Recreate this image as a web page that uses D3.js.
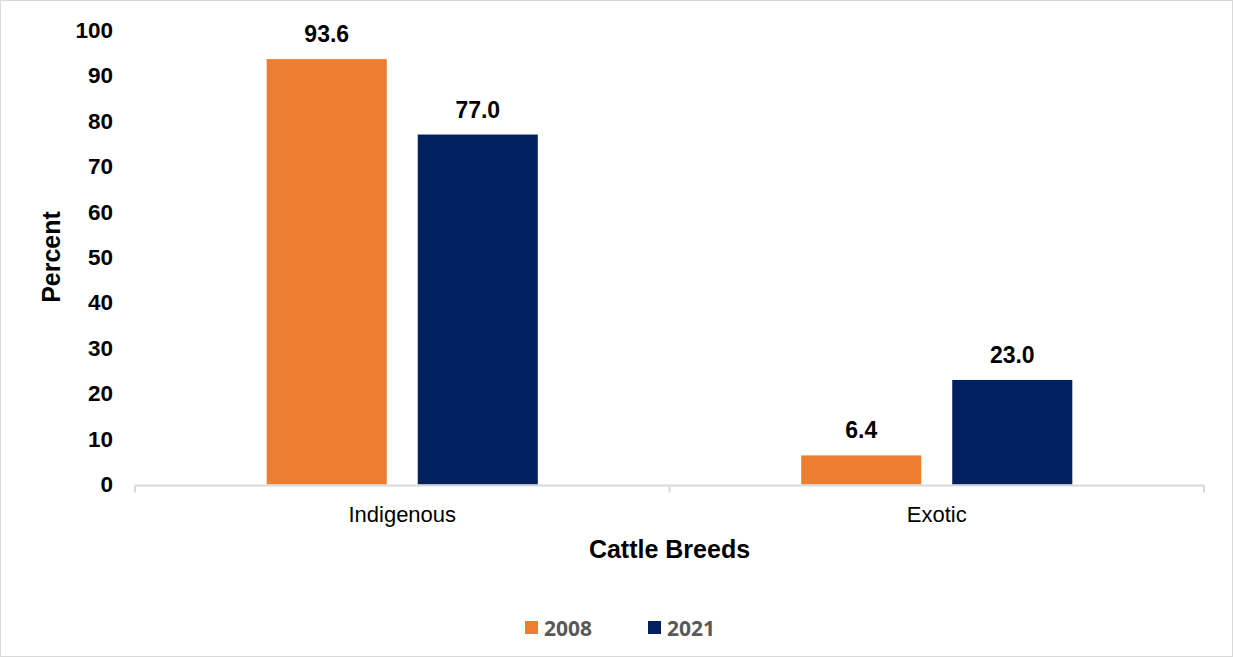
<!DOCTYPE html>
<html><head><meta charset="utf-8">
<script src="https://cdn.jsdelivr.net/npm/d3@7"></script>
<style>body{margin:0;background:#fff;}svg{display:block;}</style>
</head><body>
<svg id="c" width="1233" height="657"></svg>
<script>
const categories = ["Indigenous", "Exotic"];
const seriesNames = ["2008", "2021"];
const values2008 = [93.6, 6.4];
const values2021 = [77.0, 23.0];
const yTicks = [0, 10, 20, 30, 40, 50, 60, 70, 80, 90, 100];
const colors = ["#ED7D31", "#002060"];

(function () {
const svg = d3.select("#c");
svg.append("rect").attr("x", 0.5).attr("y", 0.5).attr("width", 1232).attr("height", 656)
  .attr("fill", "#fff").attr("stroke", "#d9d9d9");

const mLeft = 135, mRight = 1204, mTop = 30, mBottom = 484.5;
const x = d3.scaleBand().domain(categories).range([mLeft, mRight]).paddingInner(0).paddingOuter(0);
const y = d3.scaleLinear().domain([0, 100]).range([mBottom, mTop]);
const inner = d3.scaleBand().domain(seriesNames).range([0, x.bandwidth()]).paddingInner(0.205).paddingOuter(0.872);

const font = "'Liberation Sans', Arial, sans-serif";

const yAxis = d3.axisLeft(y).tickValues(yTicks).tickSize(0).tickPadding(0);
const gy = svg.append("g").attr("transform", `translate(113,0)`).call(yAxis);
gy.select(".domain").remove();
gy.selectAll("text").attr("font-family", font).attr("font-size", 22.5).attr("font-weight", "bold").attr("fill", "#000");

const data = [];
categories.forEach((c, i) => {
  data.push({c, s: "2008", v: values2008[i], col: colors[0]});
  data.push({c, s: "2021", v: values2021[i], col: colors[1]});
});
svg.append("g").selectAll("rect").data(data).join("rect")
  .attr("x", d => x(d.c) + inner(d.s))
  .attr("y", d => y(d.v))
  .attr("width", inner.bandwidth())
  .attr("height", d => y(0) - y(d.v))
  .attr("fill", d => d.col);

svg.append("g").selectAll("text").data(data).join("text")
  .attr("x", d => x(d.c) + inner(d.s) + inner.bandwidth() / 2)
  .attr("y", d => y(d.v) - 17)
  .attr("text-anchor", "middle")
  .attr("font-family", font).attr("font-size", 23).attr("font-weight", "bold").attr("fill", "#000")
  .text(d => d.v.toFixed(1));

const xAxis = d3.axisBottom(x).tickSize(0).tickPadding(0);
const gx = svg.append("g").attr("transform", `translate(0,${mBottom + 1})`).call(xAxis);
gx.select(".domain").attr("stroke", "#d9d9d9").attr("stroke-width", 2).attr("d", `M${mLeft},0H${mRight}`);
gx.selectAll("text").attr("font-family", font).attr("font-size", 22).attr("fill", "#000")
  .attr("dy", null).attr("y", 36.5);
const bounds = [mLeft, mLeft + x.bandwidth(), mRight];
svg.append("g").selectAll("line").data(bounds).join("line")
  .attr("x1", d => d).attr("x2", d => d).attr("y1", mBottom + 1).attr("y2", mBottom + 8)
  .attr("stroke", "#d9d9d9").attr("stroke-width", 2);

svg.append("text").attr("x", (mLeft + mRight) / 2).attr("y", 558).attr("text-anchor", "middle")
  .attr("font-family", font).attr("font-size", 25).attr("font-weight", "bold").text("Cattle Breeds");
svg.append("text").attr("transform", `translate(60,257) rotate(-90)`).attr("text-anchor", "middle")
  .attr("font-family", font).attr("font-size", 25).attr("font-weight", "bold").text("Percent");

const legX = [525, 648];
const lg = svg.append("g").selectAll("g").data(seriesNames).join("g")
  .attr("transform", (d, i) => `translate(${legX[i]},621)`);
lg.append("rect").attr("width", 13).attr("height", 13).attr("fill", (d, i) => colors[i]);
lg.append("text").attr("x", 19).attr("y", 14.5).attr("font-family", "'Open Sans', sans-serif")
  .attr("font-size", 21).attr("font-weight", "bold").attr("fill", "#595959").text(d => d);
})();
</script>
</body></html>
